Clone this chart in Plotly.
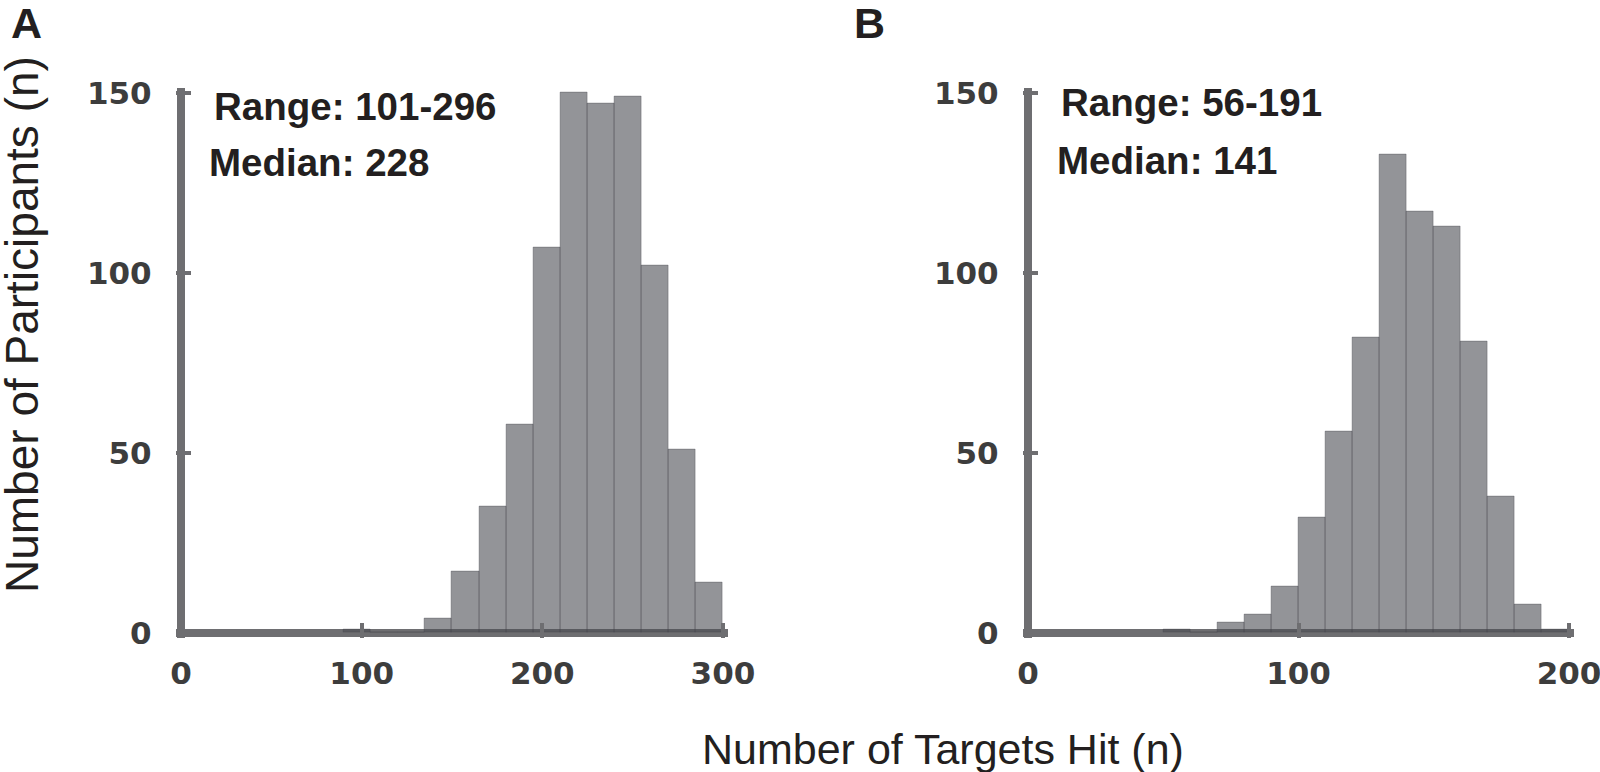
import plotly.graph_objects as go

W, H = 1600, 772

# Panel A: Targets hit histogram (bin width 15, first edge 90)
a_bin_width = 15
a_bin_left = [90, 105, 120, 135, 150, 165, 180, 195, 210, 225, 240, 255, 270, 285]
a_counts = [1, 0, 0, 4, 17, 35, 58, 107, 150, 147, 149, 102, 51, 14]

# Panel B: (bin width 10, first edge 50)
b_bin_width = 10
b_bin_left = [50, 60, 70, 80, 90, 100, 110, 120, 130, 140, 150, 160, 170, 180, 190]
b_counts = [1, 0, 3, 5, 13, 32, 56, 82, 133, 117, 113, 81, 38, 8, 1]

a_xticks = [0, 100, 200, 300]
b_xticks = [0, 100, 200]
yticks = [0, 50, 100, 150]

a_notes = ["Range: 101-296", "Median: 228"]
b_notes = ["Range: 56-191", "Median: 141"]

bar_color = "rgba(75,77,83,0.6)"
edge_color = "rgba(70,70,75,0.35)"
axis_color = "#6e6e71"
tick_font = dict(family="DejaVu Sans", size=31, color="#3d3d3d", weight="bold")
text_font = "Liberation Sans, Arial, Helvetica, sans-serif"

fig = go.Figure()
fig.add_trace(go.Bar(
    x=[l + a_bin_width / 2 for l in a_bin_left], y=a_counts, width=a_bin_width,
    marker=dict(color=bar_color, line=dict(color=edge_color, width=1)),
    xaxis="x", yaxis="y", showlegend=False, hoverinfo="x+y"))
fig.add_trace(go.Bar(
    x=[l + b_bin_width / 2 for l in b_bin_left], y=b_counts, width=b_bin_width,
    marker=dict(color=bar_color, line=dict(color=edge_color, width=1)),
    xaxis="x2", yaxis="y2", showlegend=False, hoverinfo="x+y"))


def px_x(p):
    return p / W


def px_y(p):
    return 1 - p / H


ydom = [px_y(638.4), px_y(87.6)]
common_x = dict(showgrid=False, showline=False, zeroline=True, zerolinewidth=8,
                zerolinecolor=axis_color, ticks="inside", ticklen=15, tickwidth=4,
                tickcolor=axis_color, tickfont=tick_font, ticklabelstandoff=14,
                ticklabeloverflow="allow", fixedrange=True, automargin=False)
common_y = dict(showgrid=False, showline=False, zeroline=True, zerolinewidth=8,
                zerolinecolor=axis_color, ticks="inside", ticklen=15, tickwidth=4,
                tickcolor=axis_color, tickfont=tick_font, ticklabelstandoff=23,
                ticklabeloverflow="allow",
                range=[-1.5, 151.5], tickvals=yticks, domain=ydom, fixedrange=True,
                automargin=False)

fig.update_layout(
    width=W, height=H, margin=dict(l=0, r=0, t=0, b=0, pad=0),
    paper_bgcolor="white", plot_bgcolor="white", bargap=0,
    xaxis=dict(common_x, domain=[px_x(175.6), px_x(728.4)], range=[-3, 303],
               tickvals=a_xticks, anchor="y"),
    yaxis=dict(common_y, anchor="x"),
    xaxis2=dict(common_x, domain=[px_x(1022.6), px_x(1574.4)], range=[-2, 202],
                tickvals=b_xticks, anchor="y2"),
    yaxis2=dict(common_y, anchor="x2"),
)

ann = []
def add_text(text, xpx, ypx, size, bold=False, xanchor="left", yanchor="middle",
             angle=0, color="#231f20"):
    ann.append(dict(text=f"<b>{text}</b>" if bold else text, x=px_x(xpx), y=px_y(ypx),
                    xref="paper", yref="paper", xanchor=xanchor, yanchor=yanchor,
                    showarrow=False, textangle=angle, borderpad=0,
                    font=dict(family=text_font, size=size, color=color)))

add_text("A", 10, 23, 43, bold=True)
add_text("B", 853, 23, 43, bold=True)
add_text(a_notes[0], 213, 106, 38.5, bold=True)
add_text(a_notes[1], 208, 163, 38.5, bold=True)
add_text(b_notes[0], 1060, 102, 38.5, bold=True)
add_text(b_notes[1], 1056, 161, 38.5, bold=True)
add_text("Number of Participants (n)", 22, 325, 46, xanchor="center", angle=-90,
         color="#231f20")
add_text("Number of Targets Hit (n)", 943, 749, 43, xanchor="center", color="#231f20")
fig.update_layout(annotations=ann)

fig.write_html(
    "out.html",
    config={"displayModeBar": False},
    post_script="document.body.style.margin='0';document.body.style.overflow='hidden';",
)
